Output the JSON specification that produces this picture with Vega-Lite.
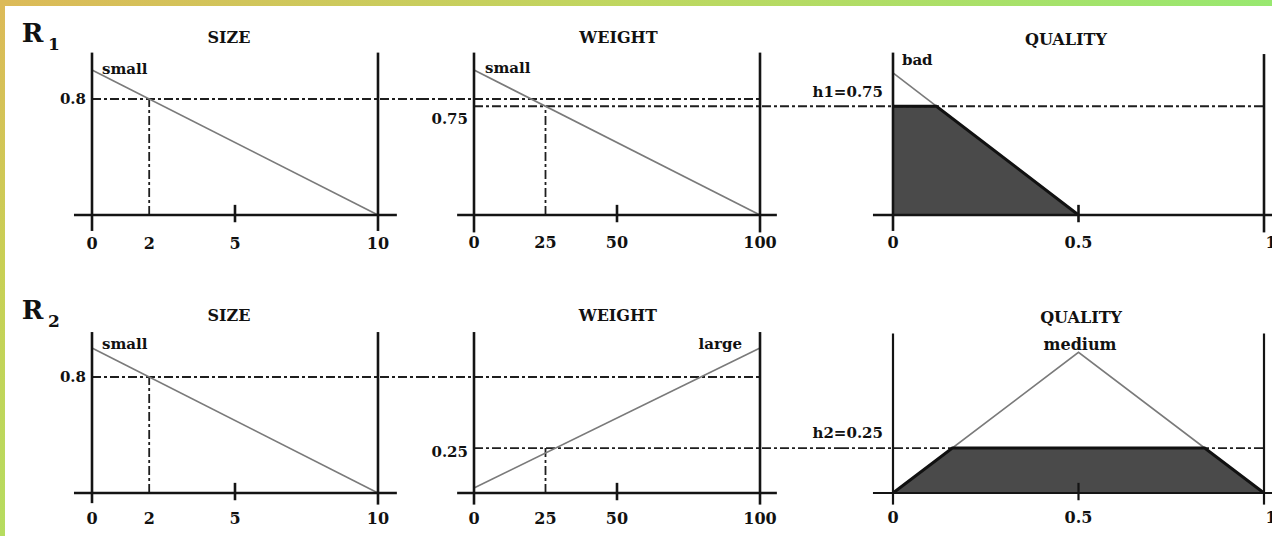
{
  "$schema": "https://vega.github.io/schema/vega-lite/v6.json",
  "padding": 0,
  "spacing": 0,
  "bounds": "flush",
  "align": "each",
  "columns": 4,
  "background": "white",
  "resolve": {"scale": {"x": "independent", "y": "independent"}},
  "config": {"view": {"stroke": null}, "concat": {"spacing": 0}},
  "datasets": {
    "s1": [
      {"k": "axis", "x": 0, "y": -0.11, "x2": 0, "y2": 1.12},
      {"k": "axis", "x": 10, "y": -0.11, "x2": 10, "y2": 1.12},
      {"k": "axis", "x": -0.63, "y": 0, "x2": 10.66, "y2": 0},
      {"k": "axis", "x": 5, "y": -0.05, "x2": 5, "y2": 0.07},
      {"k": "dash", "x": 0, "y": 0.8, "x2": 11.469, "y2": 0.8},
      {"k": "dash", "x": 2, "y": 0, "x2": 2, "y2": 0.8},
      {"k": "mf", "x": 0, "y": 1},
      {"k": "mf", "x": 10, "y": 0},
      {"k": "c", "x": 0, "y": -0.2, "t": "0"},
      {"k": "c", "x": 2, "y": -0.2, "t": "2"},
      {"k": "c", "x": 5, "y": -0.2, "t": "5"},
      {"k": "c", "x": 10, "y": -0.2, "t": "10"},
      {"k": "c", "x": 4.79, "y": 1.22, "t": "SIZE"},
      {"k": "r", "x": -0.21, "y": 0.8, "t": "0.8"},
      {"k": "l", "x": 0.35, "y": 1.01, "t": "small"},
      {"k": "big", "x": -2.08, "y": 1.248, "t": "R"},
      {"k": "sub", "x": -1.33, "y": 1.172, "t": "1"}
    ],
    "w1": [
      {"k": "axis", "x": 0, "y": -0.12, "x2": 0, "y2": 1.12},
      {"k": "axis", "x": 100, "y": -0.12, "x2": 100, "y2": 1.12},
      {"k": "axis", "x": -5.9, "y": 0, "x2": 105.9, "y2": 0},
      {"k": "axis", "x": 50, "y": -0.05, "x2": 50, "y2": 0.07},
      {"k": "dash", "x": -18.881, "y": 0.8, "x2": 100, "y2": 0.8},
      {"k": "dash", "x": 0, "y": 0.75, "x2": 127.972, "y2": 0.75},
      {"k": "dash", "x": 25, "y": 0, "x2": 25, "y2": 0.75},
      {"k": "mf", "x": 0, "y": 1},
      {"k": "mf", "x": 100, "y": 0},
      {"k": "c", "x": 0, "y": -0.19, "t": "0"},
      {"k": "c", "x": 25, "y": -0.19, "t": "25"},
      {"k": "c", "x": 50, "y": -0.19, "t": "50"},
      {"k": "c", "x": 100, "y": -0.19, "t": "100"},
      {"k": "c", "x": 50.5, "y": 1.22, "t": "WEIGHT"},
      {"k": "r", "x": -2.1, "y": 0.662, "t": "0.75"},
      {"k": "l", "x": 3.85, "y": 1.014, "t": "small"}
    ],
    "q1": [
      {"k": "fill", "x": 0, "y": 0.75},
      {"k": "fill", "x": 0.117, "y": 0.75},
      {"k": "fill", "x": 0.5, "y": 0},
      {"k": "axis", "x": 0, "y": -0.11, "x2": 0, "y2": 1.12},
      {"k": "axis", "x": 1, "y": -0.12, "x2": 1, "y2": 1.11},
      {"k": "axis", "x": -0.054, "y": 0, "x2": 1.0216, "y2": 0},
      {"k": "axis", "x": 0.5, "y": -0.05, "x2": 0.5, "y2": 0.07},
      {"k": "dash", "x": -0.14286, "y": 0.75, "x2": 1, "y2": 0.75},
      {"k": "mf", "x": 0, "y": 0.98},
      {"k": "mf", "x": 0.5, "y": 0},
      {"k": "cut", "x": 0, "y": 0.75},
      {"k": "cut", "x": 0.117, "y": 0.75},
      {"k": "cut", "x": 0.5, "y": 0},
      {"k": "c", "x": 0, "y": -0.19, "t": "0"},
      {"k": "c", "x": 0.5, "y": -0.19, "t": "0.5"},
      {"k": "c", "x": 1.019, "y": -0.19, "t": "1"},
      {"k": "c", "x": 0.466, "y": 1.21, "t": "QUALITY"},
      {"k": "r", "x": -0.027, "y": 0.848, "t": "h1=0.75"},
      {"k": "l", "x": 0.024, "y": 1.069, "t": "bad"}
    ],
    "s2": [
      {"k": "axis", "x": 0, "y": -0.07, "x2": 0, "y2": 1.11},
      {"k": "axis", "x": 10, "y": -0.08, "x2": 10, "y2": 1.11},
      {"k": "axis", "x": -0.63, "y": 0, "x2": 10.66, "y2": 0},
      {"k": "axis", "x": 5, "y": -0.05, "x2": 5, "y2": 0.07},
      {"k": "dash", "x": 0, "y": 0.8, "x2": 11.469, "y2": 0.8},
      {"k": "dash", "x": 2, "y": 0, "x2": 2, "y2": 0.8},
      {"k": "mf", "x": 0, "y": 1},
      {"k": "mf", "x": 10, "y": 0},
      {"k": "c", "x": 0, "y": -0.179, "t": "0"},
      {"k": "c", "x": 2, "y": -0.179, "t": "2"},
      {"k": "c", "x": 5, "y": -0.179, "t": "5"},
      {"k": "c", "x": 10, "y": -0.179, "t": "10"},
      {"k": "c", "x": 4.79, "y": 1.22, "t": "SIZE"},
      {"k": "r", "x": -0.21, "y": 0.8, "t": "0.8"},
      {"k": "l", "x": 0.35, "y": 1.03, "t": "small"},
      {"k": "big", "x": -2.08, "y": 1.255, "t": "R"},
      {"k": "sub", "x": -1.33, "y": 1.18, "t": "2"}
    ],
    "w2": [
      {"k": "axis", "x": 0, "y": -0.08, "x2": 0, "y2": 1.11},
      {"k": "axis", "x": 100, "y": -0.08, "x2": 100, "y2": 1.11},
      {"k": "axis", "x": -5.9, "y": 0, "x2": 105.9, "y2": 0},
      {"k": "axis", "x": 50, "y": -0.05, "x2": 50, "y2": 0.07},
      {"k": "dash", "x": -18.881, "y": 0.8, "x2": 100, "y2": 0.8},
      {"k": "dash", "x": 0, "y": 0.31, "x2": 127.972, "y2": 0.31},
      {"k": "dash", "x": 25, "y": 0, "x2": 25, "y2": 0.31},
      {"k": "mf", "x": 0, "y": 0.035},
      {"k": "mf", "x": 100, "y": 1},
      {"k": "c", "x": 0, "y": -0.18, "t": "0"},
      {"k": "c", "x": 25, "y": -0.18, "t": "25"},
      {"k": "c", "x": 50, "y": -0.18, "t": "50"},
      {"k": "c", "x": 100, "y": -0.18, "t": "100"},
      {"k": "c", "x": 50.3, "y": 1.22, "t": "WEIGHT"},
      {"k": "r", "x": -2.1, "y": 0.283, "t": "0.25"},
      {"k": "r", "x": 93.7, "y": 1.03, "t": "large"}
    ],
    "q2": [
      {"k": "fill", "x": 0, "y": 0},
      {"k": "fill", "x": 0.16, "y": 0.31},
      {"k": "fill", "x": 0.84, "y": 0.31},
      {"k": "fill", "x": 1, "y": 0},
      {"k": "axis", "x": 0, "y": -0.08, "x2": 0, "y2": 1.1},
      {"k": "axis", "x": 1, "y": -0.08, "x2": 1, "y2": 1.1},
      {"k": "axis", "x": -0.054, "y": 0, "x2": 1.0216, "y2": 0},
      {"k": "axis", "x": 0.5, "y": -0.05, "x2": 0.5, "y2": 0.07},
      {"k": "dash", "x": -0.14286, "y": 0.31, "x2": 1, "y2": 0.31},
      {"k": "mf", "x": 0, "y": 0},
      {"k": "mf", "x": 0.5, "y": 0.97},
      {"k": "mf", "x": 1, "y": 0},
      {"k": "cut", "x": 0, "y": 0},
      {"k": "cut", "x": 0.16, "y": 0.31},
      {"k": "cut", "x": 0.84, "y": 0.31},
      {"k": "cut", "x": 1, "y": 0},
      {"k": "c", "x": 0, "y": -0.172, "t": "0"},
      {"k": "c", "x": 0.5, "y": -0.172, "t": "0.5"},
      {"k": "c", "x": 1.019, "y": -0.172, "t": "1"},
      {"k": "c", "x": 0.507, "y": 1.207, "t": "QUALITY"},
      {"k": "c", "x": 0.504, "y": 1.02, "t": "medium"},
      {"k": "r", "x": -0.027, "y": 0.414, "t": "h2=0.25"}
    ],
    "strip": [{"a": 0, "b": 1}]
  },
  "concat": [
    {
      "width": 5, "height": 6, "data": {"name": "strip"},
      "mark": {"type": "rect", "color": "#dcba58"},
      "encoding": {
        "x": {"field": "a", "type": "quantitative", "scale": {"domain": [0, 1], "nice": false}, "axis": null},
        "x2": {"field": "b"},
        "y": {"field": "a", "type": "quantitative", "scale": {"domain": [0, 1], "nice": false}, "axis": null},
        "y2": {"field": "b"}
      }
    },
    {
      "width": 415, "height": 6, "data": {"name": "strip"},
      "mark": {"type": "rect", "color": {"gradient": "linear", "x1": 0, "y1": 0, "x2": 1, "y2": 0, "stops": [{"offset": 0, "color": "#dcba58"}, {"offset": 1, "color": "#c9cd5d"}]}},
      "encoding": {
        "x": {"field": "a", "type": "quantitative", "scale": {"domain": [0, 1], "nice": false}, "axis": null},
        "x2": {"field": "b"},
        "y": {"field": "a", "type": "quantitative", "scale": {"domain": [0, 1], "nice": false}, "axis": null},
        "y2": {"field": "b"}
      }
    },
    {
      "width": 420, "height": 6, "data": {"name": "strip"},
      "mark": {"type": "rect", "color": {"gradient": "linear", "x1": 0, "y1": 0, "x2": 1, "y2": 0, "stops": [{"offset": 0, "color": "#c9cd5d"}, {"offset": 0.5, "color": "#bfd760"}, {"offset": 1, "color": "#b2dc65"}]}},
      "encoding": {
        "x": {"field": "a", "type": "quantitative", "scale": {"domain": [0, 1], "nice": false}, "axis": null},
        "x2": {"field": "b"},
        "y": {"field": "a", "type": "quantitative", "scale": {"domain": [0, 1], "nice": false}, "axis": null},
        "y2": {"field": "b"}
      }
    },
    {
      "width": 432, "height": 6, "data": {"name": "strip"},
      "mark": {"type": "rect", "color": {"gradient": "linear", "x1": 0, "y1": 0, "x2": 1, "y2": 0, "stops": [{"offset": 0, "color": "#b2dc65"}, {"offset": 1, "color": "#98e870"}]}},
      "encoding": {
        "x": {"field": "a", "type": "quantitative", "scale": {"domain": [0, 1], "nice": false}, "axis": null},
        "x2": {"field": "b"},
        "y": {"field": "a", "type": "quantitative", "scale": {"domain": [0, 1], "nice": false}, "axis": null},
        "y2": {"field": "b"}
      }
    },
    {
      "width": 5, "height": 264, "data": {"name": "strip"},
      "mark": {"type": "rect", "color": {"gradient": "linear", "x1": 0, "y1": 0, "x2": 0, "y2": 1, "stops": [{"offset": 0, "color": "#dcba58"}, {"offset": 1, "color": "#c8d055"}]}},
      "encoding": {
        "x": {"field": "a", "type": "quantitative", "scale": {"domain": [0, 1], "nice": false}, "axis": null},
        "x2": {"field": "b"},
        "y": {"field": "a", "type": "quantitative", "scale": {"domain": [0, 1], "nice": false}, "axis": null},
        "y2": {"field": "b"}
      }
    },
    {
      "width": 415, "height": 264,
      "data": {"name": "s1"},
      "encoding": {
        "x": {"field": "x", "type": "quantitative", "scale": {"domain": [-3.042, 11.469], "nice": false, "zero": false}, "axis": null},
        "y": {"field": "y", "type": "quantitative", "scale": {"domain": [-0.37931, 1.44138], "nice": false, "zero": false}, "axis": null}
      },
      "layer": [
        {"transform": [{"filter": "datum.k==='dash'"}], "mark": {"type": "rule", "color": "#1e1e1e", "strokeWidth": 1.8, "strokeDash": [9, 3, 3, 3]}, "encoding": {"x2": {"field": "x2"}, "y2": {"field": "y2"}}},
        {"transform": [{"filter": "datum.k==='mf'"}], "mark": {"type": "line", "color": "#7a7a7a", "strokeWidth": 1.6}},
        {"transform": [{"filter": "datum.k==='axis'"}], "mark": {"type": "rule", "color": "#141414", "strokeWidth": 2.6}, "encoding": {"x2": {"field": "x2"}, "y2": {"field": "y2"}}},
        {"transform": [{"filter": "datum.k==='c'"}], "mark": {"type": "text", "font": "DejaVu Serif", "fontWeight": "bold", "fontSize": 16, "align": "center", "baseline": "middle", "color": "#111"}, "encoding": {"text": {"field": "t"}}},
        {"transform": [{"filter": "datum.k==='r'"}], "mark": {"type": "text", "font": "DejaVu Serif", "fontWeight": "bold", "fontSize": 15, "align": "right", "baseline": "middle", "color": "#111"}, "encoding": {"text": {"field": "t"}}},
        {"transform": [{"filter": "datum.k==='l'"}], "mark": {"type": "text", "font": "DejaVu Serif", "fontWeight": "bold", "fontSize": 15, "align": "left", "baseline": "middle", "color": "#111"}, "encoding": {"text": {"field": "t"}}},
        {"transform": [{"filter": "datum.k==='big'"}], "mark": {"type": "text", "font": "DejaVu Serif", "fontWeight": "bold", "fontSize": 26, "align": "center", "baseline": "middle", "color": "#111"}, "encoding": {"text": {"field": "t"}}},
        {"transform": [{"filter": "datum.k==='sub'"}], "mark": {"type": "text", "font": "DejaVu Serif", "fontWeight": "bold", "fontSize": 17, "align": "center", "baseline": "middle", "color": "#111"}, "encoding": {"text": {"field": "t"}}}
      ]
    },
    {
      "width": 420, "height": 264,
      "data": {"name": "w1"},
      "encoding": {
        "x": {"field": "x", "type": "quantitative", "scale": {"domain": [-18.881, 127.972], "nice": false, "zero": false}, "axis": null},
        "y": {"field": "y", "type": "quantitative", "scale": {"domain": [-0.37931, 1.44138], "nice": false, "zero": false}, "axis": null}
      },
      "layer": [
        {"transform": [{"filter": "datum.k==='dash'"}], "mark": {"type": "rule", "color": "#1e1e1e", "strokeWidth": 1.8, "strokeDash": [9, 3, 3, 3]}, "encoding": {"x2": {"field": "x2"}, "y2": {"field": "y2"}}},
        {"transform": [{"filter": "datum.k==='mf'"}], "mark": {"type": "line", "color": "#7a7a7a", "strokeWidth": 1.6}},
        {"transform": [{"filter": "datum.k==='axis'"}], "mark": {"type": "rule", "color": "#141414", "strokeWidth": 2.6}, "encoding": {"x2": {"field": "x2"}, "y2": {"field": "y2"}}},
        {"transform": [{"filter": "datum.k==='c'"}], "mark": {"type": "text", "font": "DejaVu Serif", "fontWeight": "bold", "fontSize": 16, "align": "center", "baseline": "middle", "color": "#111"}, "encoding": {"text": {"field": "t"}}},
        {"transform": [{"filter": "datum.k==='r'"}], "mark": {"type": "text", "font": "DejaVu Serif", "fontWeight": "bold", "fontSize": 15, "align": "right", "baseline": "middle", "color": "#111"}, "encoding": {"text": {"field": "t"}}},
        {"transform": [{"filter": "datum.k==='l'"}], "mark": {"type": "text", "font": "DejaVu Serif", "fontWeight": "bold", "fontSize": 15, "align": "left", "baseline": "middle", "color": "#111"}, "encoding": {"text": {"field": "t"}}}
      ]
    },
    {
      "width": 432, "height": 264,
      "data": {"name": "q1"},
      "encoding": {
        "x": {"field": "x", "type": "quantitative", "scale": {"domain": [-0.14286, 1.02156], "nice": false, "zero": false}, "axis": null},
        "y": {"field": "y", "type": "quantitative", "scale": {"domain": [-0.37931, 1.44138], "nice": false, "zero": false}, "axis": null}
      },
      "layer": [
        {"transform": [{"filter": "datum.k==='fill'"}], "mark": {"type": "area", "color": "#4a4a4a", "opacity": 1}, "encoding": {"y2": {"datum": 0}}},
        {"transform": [{"filter": "datum.k==='dash'"}], "mark": {"type": "rule", "color": "#1e1e1e", "strokeWidth": 1.8, "strokeDash": [9, 3, 3, 3]}, "encoding": {"x2": {"field": "x2"}, "y2": {"field": "y2"}}},
        {"transform": [{"filter": "datum.k==='mf'"}], "mark": {"type": "line", "color": "#7a7a7a", "strokeWidth": 1.6}},
        {"transform": [{"filter": "datum.k==='cut'"}], "mark": {"type": "line", "color": "#111", "strokeWidth": 3}},
        {"transform": [{"filter": "datum.k==='axis'"}], "mark": {"type": "rule", "color": "#141414", "strokeWidth": 2.6}, "encoding": {"x2": {"field": "x2"}, "y2": {"field": "y2"}}},
        {"transform": [{"filter": "datum.k==='c'"}], "mark": {"type": "text", "font": "DejaVu Serif", "fontWeight": "bold", "fontSize": 16, "align": "center", "baseline": "middle", "color": "#111"}, "encoding": {"text": {"field": "t"}}},
        {"transform": [{"filter": "datum.k==='r'"}], "mark": {"type": "text", "font": "DejaVu Serif", "fontWeight": "bold", "fontSize": 15, "align": "right", "baseline": "middle", "color": "#111"}, "encoding": {"text": {"field": "t"}}},
        {"transform": [{"filter": "datum.k==='l'"}], "mark": {"type": "text", "font": "DejaVu Serif", "fontWeight": "bold", "fontSize": 15, "align": "left", "baseline": "middle", "color": "#111"}, "encoding": {"text": {"field": "t"}}}
      ]
    },
    {
      "width": 5, "height": 266, "data": {"name": "strip"},
      "mark": {"type": "rect", "color": {"gradient": "linear", "x1": 0, "y1": 0, "x2": 0, "y2": 1, "stops": [{"offset": 0, "color": "#c8d055"}, {"offset": 1, "color": "#b6dc60"}]}},
      "encoding": {
        "x": {"field": "a", "type": "quantitative", "scale": {"domain": [0, 1], "nice": false}, "axis": null},
        "x2": {"field": "b"},
        "y": {"field": "a", "type": "quantitative", "scale": {"domain": [0, 1], "nice": false}, "axis": null},
        "y2": {"field": "b"}
      }
    },
    {
      "width": 415, "height": 266,
      "data": {"name": "s2"},
      "encoding": {
        "x": {"field": "x", "type": "quantitative", "scale": {"domain": [-3.042, 11.469], "nice": false, "zero": false}, "axis": null},
        "y": {"field": "y", "type": "quantitative", "scale": {"domain": [-0.29655, 1.53793], "nice": false, "zero": false}, "axis": null}
      },
      "layer": [
        {"transform": [{"filter": "datum.k==='dash'"}], "mark": {"type": "rule", "color": "#1e1e1e", "strokeWidth": 1.8, "strokeDash": [9, 3, 3, 3]}, "encoding": {"x2": {"field": "x2"}, "y2": {"field": "y2"}}},
        {"transform": [{"filter": "datum.k==='mf'"}], "mark": {"type": "line", "color": "#7a7a7a", "strokeWidth": 1.6}},
        {"transform": [{"filter": "datum.k==='axis'"}], "mark": {"type": "rule", "color": "#141414", "strokeWidth": 2.6}, "encoding": {"x2": {"field": "x2"}, "y2": {"field": "y2"}}},
        {"transform": [{"filter": "datum.k==='c'"}], "mark": {"type": "text", "font": "DejaVu Serif", "fontWeight": "bold", "fontSize": 16, "align": "center", "baseline": "middle", "color": "#111"}, "encoding": {"text": {"field": "t"}}},
        {"transform": [{"filter": "datum.k==='r'"}], "mark": {"type": "text", "font": "DejaVu Serif", "fontWeight": "bold", "fontSize": 15, "align": "right", "baseline": "middle", "color": "#111"}, "encoding": {"text": {"field": "t"}}},
        {"transform": [{"filter": "datum.k==='l'"}], "mark": {"type": "text", "font": "DejaVu Serif", "fontWeight": "bold", "fontSize": 15, "align": "left", "baseline": "middle", "color": "#111"}, "encoding": {"text": {"field": "t"}}},
        {"transform": [{"filter": "datum.k==='big'"}], "mark": {"type": "text", "font": "DejaVu Serif", "fontWeight": "bold", "fontSize": 26, "align": "center", "baseline": "middle", "color": "#111"}, "encoding": {"text": {"field": "t"}}},
        {"transform": [{"filter": "datum.k==='sub'"}], "mark": {"type": "text", "font": "DejaVu Serif", "fontWeight": "bold", "fontSize": 17, "align": "center", "baseline": "middle", "color": "#111"}, "encoding": {"text": {"field": "t"}}}
      ]
    },
    {
      "width": 420, "height": 266,
      "data": {"name": "w2"},
      "encoding": {
        "x": {"field": "x", "type": "quantitative", "scale": {"domain": [-18.881, 127.972], "nice": false, "zero": false}, "axis": null},
        "y": {"field": "y", "type": "quantitative", "scale": {"domain": [-0.29655, 1.53793], "nice": false, "zero": false}, "axis": null}
      },
      "layer": [
        {"transform": [{"filter": "datum.k==='dash'"}], "mark": {"type": "rule", "color": "#1e1e1e", "strokeWidth": 1.8, "strokeDash": [9, 3, 3, 3]}, "encoding": {"x2": {"field": "x2"}, "y2": {"field": "y2"}}},
        {"transform": [{"filter": "datum.k==='mf'"}], "mark": {"type": "line", "color": "#7a7a7a", "strokeWidth": 1.6}},
        {"transform": [{"filter": "datum.k==='axis'"}], "mark": {"type": "rule", "color": "#141414", "strokeWidth": 2.6}, "encoding": {"x2": {"field": "x2"}, "y2": {"field": "y2"}}},
        {"transform": [{"filter": "datum.k==='c'"}], "mark": {"type": "text", "font": "DejaVu Serif", "fontWeight": "bold", "fontSize": 16, "align": "center", "baseline": "middle", "color": "#111"}, "encoding": {"text": {"field": "t"}}},
        {"transform": [{"filter": "datum.k==='r'"}], "mark": {"type": "text", "font": "DejaVu Serif", "fontWeight": "bold", "fontSize": 15, "align": "right", "baseline": "middle", "color": "#111"}, "encoding": {"text": {"field": "t"}}}
      ]
    },
    {
      "width": 432, "height": 266,
      "data": {"name": "q2"},
      "encoding": {
        "x": {"field": "x", "type": "quantitative", "scale": {"domain": [-0.14286, 1.02156], "nice": false, "zero": false}, "axis": null},
        "y": {"field": "y", "type": "quantitative", "scale": {"domain": [-0.29655, 1.53793], "nice": false, "zero": false}, "axis": null}
      },
      "layer": [
        {"transform": [{"filter": "datum.k==='fill'"}], "mark": {"type": "area", "color": "#4a4a4a", "opacity": 1}, "encoding": {"y2": {"datum": 0}}},
        {"transform": [{"filter": "datum.k==='dash'"}], "mark": {"type": "rule", "color": "#1e1e1e", "strokeWidth": 1.8, "strokeDash": [9, 3, 3, 3]}, "encoding": {"x2": {"field": "x2"}, "y2": {"field": "y2"}}},
        {"transform": [{"filter": "datum.k==='mf'"}], "mark": {"type": "line", "color": "#7a7a7a", "strokeWidth": 1.6}},
        {"transform": [{"filter": "datum.k==='cut'"}], "mark": {"type": "line", "color": "#111", "strokeWidth": 3}},
        {"transform": [{"filter": "datum.k==='axis'"}], "mark": {"type": "rule", "color": "#141414", "strokeWidth": 2.2}, "encoding": {"x2": {"field": "x2"}, "y2": {"field": "y2"}}},
        {"transform": [{"filter": "datum.k==='c'"}], "mark": {"type": "text", "font": "DejaVu Serif", "fontWeight": "bold", "fontSize": 16, "align": "center", "baseline": "middle", "color": "#111"}, "encoding": {"text": {"field": "t"}}},
        {"transform": [{"filter": "datum.k==='r'"}], "mark": {"type": "text", "font": "DejaVu Serif", "fontWeight": "bold", "fontSize": 15, "align": "right", "baseline": "middle", "color": "#111"}, "encoding": {"text": {"field": "t"}}}
      ]
    }
  ]
}
